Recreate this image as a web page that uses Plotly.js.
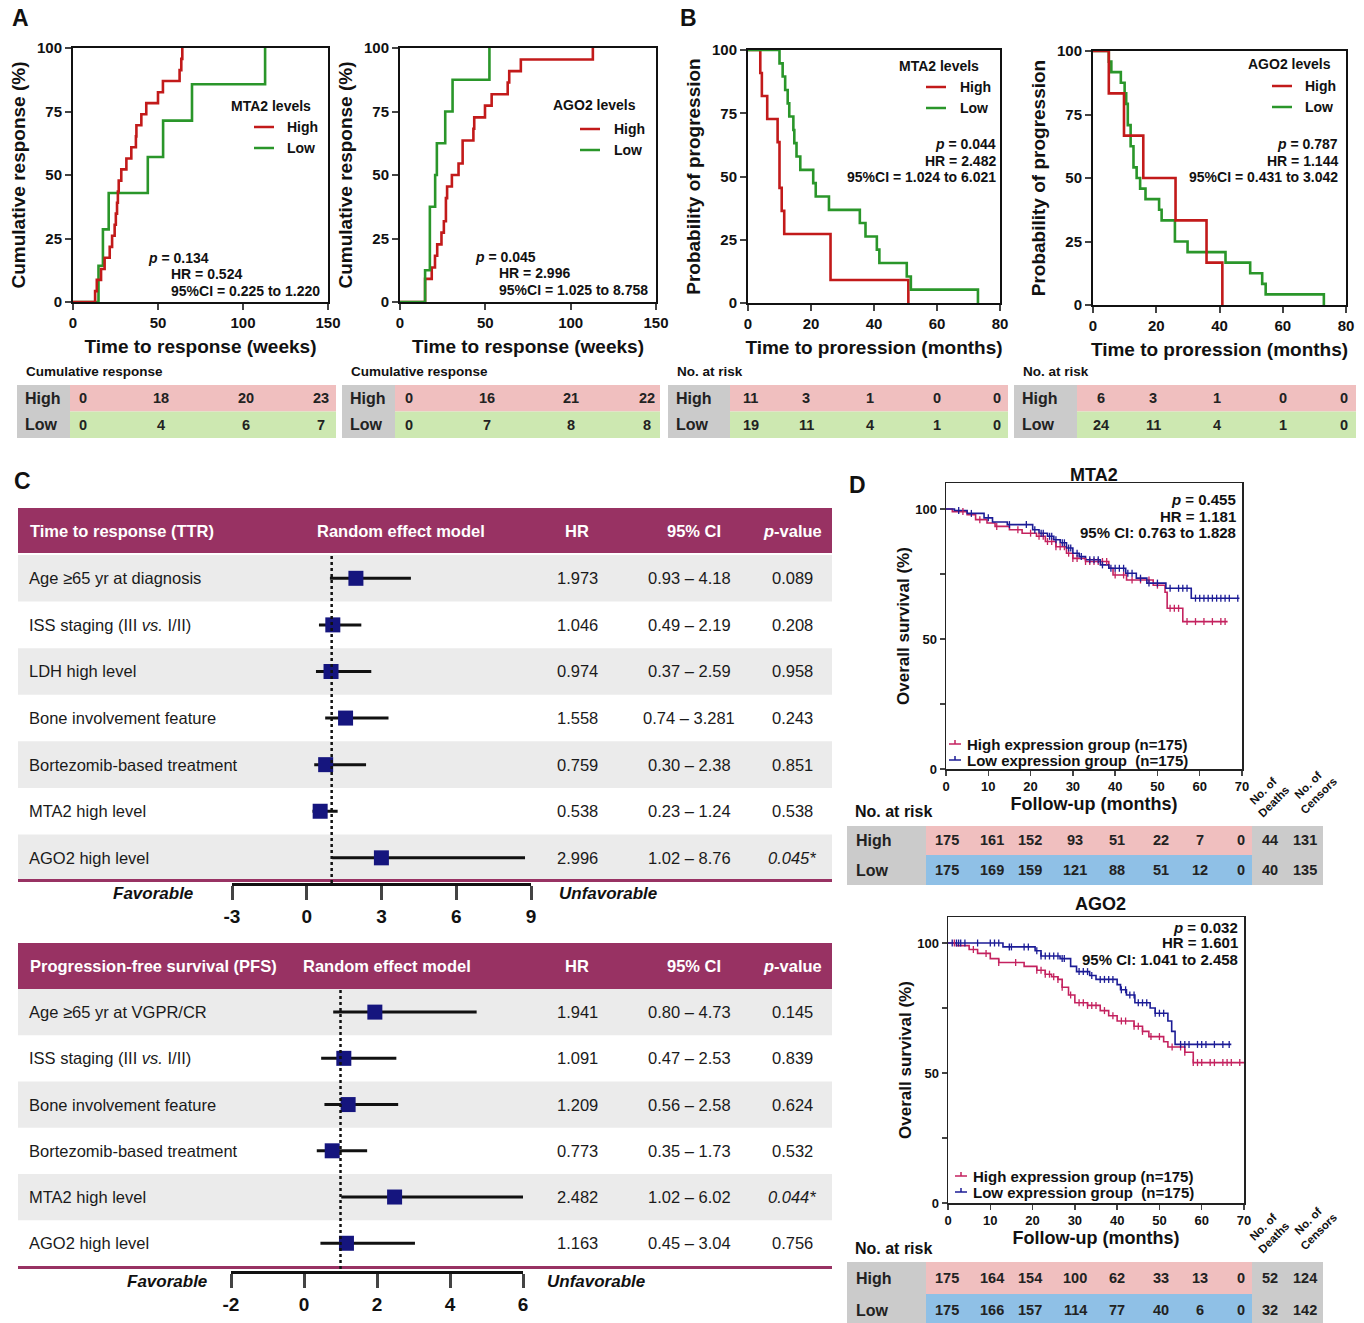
<!DOCTYPE html>
<html><head><meta charset="utf-8">
<script src="https://cdn.plot.ly/plotly-3.0.1.min.js"></script>
<style>body{margin:0;background:#fff}#chart{width:1364px;height:1323px}</style>
</head><body><div id="chart"></div>
<script>
const W = 1364, H = 1323;
const px = x => x / W, py = y => 1 - y / H;
const SANS = '"Liberation Sans", Arial, sans-serif';
const NARROW = '"Liberation Sans Narrow", "Arial Narrow", "Liberation Sans", sans-serif';

// ---------- Panel A: cumulative response (weeks) ----------
const aMtaHighT = [0, 13, 14, 16.5, 18.6, 21.6, 23, 24.5, 25.2, 25.9, 26.4, 26.9, 28.4, 31.4, 34.3, 37, 37.3, 40.2, 43.1, 50, 52.9, 62.7, 63.7, 64.3];
const aMtaHighY = [0, 4.3, 8.7, 13.0, 17.4, 21.7, 26.1, 30.4, 34.8, 39.1, 43.5, 47.8, 52.2, 56.5, 60.9, 65.2, 69.6, 73.9, 78.3, 82.6, 87.0, 91.3, 95.7, 100];
const aMtaLowT = [0, 15, 17.6, 21, 44, 53, 70, 113];
const aMtaLowY = [0, 14.3, 28.6, 42.9, 57.1, 71.4, 85.7, 100];
const aAgoHighT = [0, 14.7, 18.6, 20.5, 21.8, 24.3, 25.7, 26.9, 27.6, 30.4, 34.3, 36.7, 43, 43.5, 49.8, 53.7, 63.1, 64, 70.8, 113];
const aAgoHighY = [0, 9.1, 13.6, 18.2, 22.7, 27.3, 31.8, 40.9, 45.5, 50, 54.5, 63.6, 68.2, 72.7, 77.3, 81.8, 86.4, 90.9, 95.5, 100];
const aAgoLowT = [0, 14.7, 17.5, 20.6, 21.6, 26.5, 30.8, 52.4];
const aAgoLowY = [0, 12.5, 37.5, 50, 62.5, 75, 87.5, 100];

// ---------- Panel B: probability of progression (months) ----------
const bMtaHighT = [0, 3.9, 4.4, 6.1, 9.4, 10, 10.7, 11.5, 26.2, 50.9];
const bMtaHighY = [100, 90.9, 81.8, 72.7, 63.6, 45.5, 36.4, 27.3, 9.1, 0];
const bMtaLowT = [0, 10, 11, 11.8, 12.6, 13.1, 14.4, 14.7, 15.4, 16.6, 20.7, 21.5, 25.7, 35.5, 37.3, 40.9, 41.7, 50.4, 51.7, 73];
const bMtaLowY = [100, 94.7, 89.5, 84.2, 78.9, 73.7, 68.4, 63.2, 57.9, 52.6, 47.4, 42.1, 36.8, 31.6, 26.3, 21.1, 15.8, 10.5, 5.3, 0];
const bAgoHighT = [0, 5, 9.8, 15.9, 26.1, 35.9, 40.9];
const bAgoHighY = [100, 83.3, 66.7, 50, 33.3, 16.7, 0];
const bAgoLowT = [0, 5, 5.8, 8.8, 10, 10.5, 11, 11.9, 12.8, 13.8, 14.9, 16.6, 20.9, 21.7, 25.9, 29.9, 41.9, 49.7, 53.5, 54.6, 73];
const bAgoLowY = [100, 95.8, 91.7, 87.5, 83.3, 79.2, 70.8, 62.5, 54.2, 50, 45.8, 41.7, 37.5, 33.3, 25, 20.8, 16.7, 12.5, 8.3, 4.2, 0];

// ---------- Tables under A/B ----------
const tA1High = [0, 18, 20, 23], tA1Low = [0, 4, 6, 7];
const tA2High = [0, 16, 21, 22], tA2Low = [0, 7, 8, 8];
const tB1High = [11, 3, 1, 0, 0], tB1Low = [19, 11, 4, 1, 0];
const tB2High = [6, 3, 1, 0, 0], tB2Low = [24, 11, 4, 1, 0];

// ---------- Panel C: forest plots ----------
const ttrLabels = ['Age \u226565 yr at diagnosis', 'ISS staging (III <i>vs.</i> I/II)', 'LDH high level', 'Bone involvement feature', 'Bortezomib-based treatment', 'MTA2 high level', 'AGO2 high level'];
const ttrHR = [1.973, 1.046, 0.974, 1.558, 0.759, 0.538, 2.996];
const ttrLo = ['0.93', '0.49', '0.37', '0.74', '0.30', '0.23', '1.02'];
const ttrHi = ['4.18', '2.19', '2.59', '3.281', '2.38', '1.24', '8.76'];
const ttrP = ['0.089', '0.208', '0.958', '0.243', '0.851', '0.538', '0.045*'];
const ttrTicks = ['-3', '0', '3', '6', '9'];
const pfsLabels = ['Age \u226565 yr at VGPR/CR', 'ISS staging (III <i>vs.</i> I/II)', 'Bone involvement feature', 'Bortezomib-based treatment', 'MTA2 high level', 'AGO2 high level'];
const pfsHR = [1.941, 1.091, 1.209, 0.773, 2.482, 1.163];
const pfsLo = ['0.80', '0.47', '0.56', '0.35', '1.02', '0.45'];
const pfsHi = ['4.73', '2.53', '2.58', '1.73', '6.02', '3.04'];
const pfsP = ['0.145', '0.839', '0.624', '0.532', '0.044*', '0.756'];
const pfsTicks = ['-2', '0', '2', '4', '6'];

// ---------- Panel D: overall survival ----------
const dMtaLowT = [0, 2, 5, 9, 11, 14.5, 20.5, 22, 24, 25.5, 27, 28.5, 30, 31.5, 33, 36.5, 38.5, 42.5, 45, 47.5, 52, 58, 69.4];
const dMtaLowY = [100, 99.4, 98.3, 96.6, 95, 94, 92, 90.7, 89.5, 88.2, 87, 85, 83, 81.7, 80.5, 78.5, 77.2, 75.3, 73.4, 71.5, 69.5, 65.7, 65.7];
const dMtaHighT = [0, 1.5, 5, 7, 9.7, 11.6, 15, 18, 21.4, 23.5, 26, 28.5, 30, 33, 38.5, 39.5, 42.7, 49, 51.8, 52.3, 56, 66.6];
const dMtaHighY = [100, 99, 97.8, 95.9, 94.6, 93.3, 92, 90.7, 89.5, 87.5, 85.5, 83, 81, 79.8, 77.2, 74.6, 72.7, 70.7, 68, 61.8, 56.7, 56.7];
const dMtaLowCens = [3, 6, 10, 15, 19, 21, 22.5, 23, 24.5, 25, 26, 27.5, 28, 29, 29.5, 31, 32, 34, 35, 36, 37, 39, 40, 41, 42, 43, 44, 46, 48, 50, 53, 55, 56, 57, 59, 60, 61, 62, 63, 64, 65, 66, 67, 69];
const dMtaHighCens = [4, 8, 12, 17, 20, 22, 23, 24, 25, 26, 27, 28, 29, 30, 31, 33, 34, 35, 36, 37, 38, 40, 42, 44, 46, 48, 50, 53, 54, 55, 57, 59, 61, 63, 65, 66];
const dAgoLowT = [0, 13, 20.6, 22, 26.5, 29, 30.4, 33.5, 35, 40, 40.8, 42.2, 44.2, 47.8, 49, 52, 52.9, 53.7, 67];
const dAgoLowY = [100, 98.5, 97, 95, 94, 91, 89, 87.5, 86, 84, 82, 80, 77, 75, 73, 70, 66, 61, 61];
const dAgoHighT = [0, 2, 5, 7, 10, 12, 18, 21, 23, 24.5, 26, 27, 28.5, 30, 33, 36, 38, 40, 44, 46, 47.5, 51, 52, 56, 58, 70];
const dAgoHighY = [100, 99, 97.5, 96, 94, 92.5, 91, 89.5, 88, 87, 86, 83, 80, 77, 76, 74, 72, 70, 68, 66, 64, 62, 60, 58, 54, 54];
const dAgoLowCens = [1, 2, 2.5, 3, 4, 7, 10, 11, 12, 14.5, 15, 18, 19, 21, 22, 23, 24, 25, 26, 27, 27.5, 31, 32, 33, 34, 36, 37, 38, 39, 41, 42, 43, 44, 45, 46, 47, 49, 50, 51, 55, 56, 57, 59, 60, 61, 63, 65, 66.5];
const dAgoHighCens = [1.5, 6, 9, 12, 16, 21, 22, 23, 24, 25, 26, 27, 29, 31, 32, 33, 34, 35, 37, 39, 41, 42, 44, 45, 46, 48, 50, 53, 55, 56, 58, 59, 60, 62, 63, 65, 66, 67, 69];
const dMtaRiskHigh = [175, 161, 152, 93, 51, 22, 7, 0], dMtaRiskLow = [175, 169, 159, 121, 88, 51, 12, 0];
const dMtaDeaths = [44, 40], dMtaCensors = [131, 135];
const dAgoRiskHigh = [175, 164, 154, 100, 62, 33, 13, 0], dAgoRiskLow = [175, 166, 157, 114, 77, 40, 6, 0];
const dAgoDeaths = [52, 32], dAgoCensors = [124, 142];

// ---------- colours ----------
const RED = '#c21a1a', GREEN = '#2a962a', MAG = '#c4225f', NAVY = '#1c1c96', PURPLE = '#983263';
const PINK = '#f0bfbf', LGREEN = '#cde8b1', GRAY = '#cbcbcb', BLUE = '#8fc0e6', ROWGRAY = '#ebebeb';

const traces = [];
function km(t, y, color, xa, ya, w) {
  traces.push({x: t, y: y, xaxis: xa, yaxis: ya, mode: 'lines', line: {shape: 'hv', color: color, width: w || 2.6}, cliponaxis: false, showlegend: false, hoverinfo: 'skip'});
}
function stepAt(t, y, c) { let v = y[0]; for (let i = 0; i < t.length; i++) { if (t[i] <= c) v = y[i]; } return v; }
function cens(times, t, y, color, xa, ya) {
  traces.push({x: times, y: times.map(c => stepAt(t, y, c)), xaxis: xa, yaxis: ya, mode: 'markers',
    marker: {symbol: 'line-ns-open', size: 5, color: color, line: {color: color, width: 1.3}}, cliponaxis: false, showlegend: false, hoverinfo: 'skip'});
}
km(aMtaLowT, aMtaLowY, GREEN, 'x', 'y'); km(aMtaHighT, aMtaHighY, RED, 'x', 'y');
km(aAgoHighT, aAgoHighY, RED, 'x2', 'y2'); km(aAgoLowT, aAgoLowY, GREEN, 'x2', 'y2');
km(bMtaHighT, bMtaHighY, RED, 'x3', 'y3'); km(bMtaLowT, bMtaLowY, GREEN, 'x3', 'y3');
km(bAgoLowT, bAgoLowY, GREEN, 'x4', 'y4'); km(bAgoHighT, bAgoHighY, RED, 'x4', 'y4');
km(dMtaHighT, dMtaHighY, MAG, 'x7', 'y7', 1.6); km(dMtaLowT, dMtaLowY, NAVY, 'x7', 'y7', 1.6);
cens(dMtaHighCens, dMtaHighT, dMtaHighY, MAG, 'x7', 'y7'); cens(dMtaLowCens, dMtaLowT, dMtaLowY, NAVY, 'x7', 'y7');
km(dAgoHighT, dAgoHighY, MAG, 'x8', 'y8', 1.6); km(dAgoLowT, dAgoLowY, NAVY, 'x8', 'y8', 1.6);
cens(dAgoHighCens, dAgoHighT, dAgoHighY, MAG, 'x8', 'y8'); cens(dAgoLowCens, dAgoLowT, dAgoLowY, NAVY, 'x8', 'y8');

function forest(hr, lo, hi, xa, ya) {
  const l = lo.map(parseFloat), h = hi.map(parseFloat);
  traces.push({x: hr, y: hr.map((_, i) => i + 1), xaxis: xa, yaxis: ya, mode: 'markers', showlegend: false, hoverinfo: 'skip',
    marker: {symbol: 'square', size: 15, color: '#15157e'},
    error_x: {type: 'data', symmetric: false, array: hr.map((v, i) => h[i] - v), arrayminus: hr.map((v, i) => v - l[i]), thickness: 3, width: 0, color: '#111'}});
}
forest(ttrHR, ttrLo, ttrHi, 'x5', 'y5');
forest(pfsHR, pfsLo, pfsHi, 'x6', 'y6');

// ---------- axes ----------
const tickBold = (s, fam) => ({family: fam || SANS, size: s, color: '#111', weight: 'bold'});
function kmX(x0, x1, anchor, rng, dtick, title, standoff) {
  return {domain: [px(x0), px(x1)], anchor: anchor, range: rng, tick0: 0, dtick: dtick, ticks: 'outside', ticklen: 6, tickwidth: 2,
    showline: true, linewidth: 2, linecolor: '#111', mirror: true, showgrid: false, zeroline: false, tickfont: tickBold(15),
    title: {text: title, font: tickBold(19), standoff: standoff}};
}
function kmY(y0, y1, anchor, title, standoff) {
  return {domain: [py(y0), py(y1)], anchor: anchor, range: [0, 100], tick0: 0, dtick: 25, ticks: 'outside', ticklen: 6, tickwidth: 2,
    showline: true, linewidth: 2, linecolor: '#111', mirror: true, showgrid: false, zeroline: false, tickfont: tickBold(15),
    title: {text: title, font: tickBold(19), standoff: standoff}};
}
function forestX(x0, x1, anchor, rng, dtick, labels) {
  const vals = labels.map(parseFloat);
  return {domain: [px(x0), px(x1)], anchor: anchor, range: rng, tickvals: vals, ticktext: labels, ticks: 'outside', ticklen: 14, tickwidth: 3,
    showline: true, linewidth: 3, linecolor: '#111', showgrid: false, zeroline: false, tickfont: tickBold(19)};
}
function dX(x0, x1, anchor, standoff) {
  return {domain: [px(x0), px(x1)], anchor: anchor, range: [0, 70], tick0: 0, dtick: 10, ticks: 'outside', ticklen: 5, tickwidth: 1.5,
    showline: true, linewidth: 1.5, linecolor: '#222', mirror: true, showgrid: false, zeroline: false, tickfont: tickBold(13),
    title: {text: 'Follow-up (months)', font: tickBold(18), standoff: standoff}};
}
function dY(y0, y1, anchor) {
  return {domain: [py(y0), py(y1)], anchor: anchor, range: [0, 110], tickvals: [0, 25, 50, 75, 100], ticktext: ['0', '', '50', '', '100'],
    ticks: 'outside', ticklen: 5, tickwidth: 1.5, showline: true, linewidth: 1.5, linecolor: '#222', mirror: true, showgrid: false, zeroline: false,
    tickfont: tickBold(13), title: {text: 'Overall survival (%)', font: tickBold(17), standoff: 1}};
}

const layout = {
  width: W, height: H, margin: {l: 0, r: 0, t: 0, b: 0}, paper_bgcolor: '#fff', plot_bgcolor: 'rgba(0,0,0,0)',
  font: {family: SANS, color: '#111'}, showlegend: false,
  xaxis: kmX(73, 328, 'y', [0, 150], 50, 'Time to response (weeks)', 10),
  yaxis: kmY(302, 48, 'x', 'Cumulative response (%)', 6),
  xaxis2: kmX(400, 656, 'y2', [0, 150], 50, 'Time to response (weeks)', 10),
  yaxis2: kmY(302, 48, 'x2', 'Cumulative response (%)', 6),
  xaxis3: kmX(748, 1000, 'y3', [0, 80], 20, 'Time to proression (months)', 10),
  yaxis3: kmY(303, 50, 'x3', 'Probability of progression', 6),
  xaxis4: kmX(1093, 1346, 'y4', [0, 80], 20, 'Time to proression (months)', 10),
  yaxis4: kmY(305, 51, 'x4', 'Probability of progression', 6),
  xaxis5: forestX(232, 531, 'y5', [-3, 9], 3, ttrTicks),
  yaxis5: {domain: [py(883), py(555)], anchor: 'x5', range: [7.54, 0.5], visible: false},
  xaxis6: forestX(231, 523, 'y6', [-2, 6], 2, pfsTicks),
  yaxis6: {domain: [py(1271), py(989)], anchor: 'x6', range: [6.60, 0.5], visible: false},
  xaxis7: dX(946, 1242, 'y7', 2),
  yaxis7: dY(769, 483, 'x7'),
  xaxis8: dX(948, 1244, 'y8', 2),
  yaxis8: dY(1203, 917, 'x8'),
  shapes: [], annotations: []
};
const S = layout.shapes, A = layout.annotations;
function rect(x0, y0, x1, y1, color) { S.push({type: 'rect', xref: 'paper', yref: 'paper', x0: px(x0), x1: px(x1), y0: py(y0), y1: py(y1), fillcolor: color, line: {width: 0}, layer: 'below'}); }
function hline(x0, x1, y, color, w, dash) { S.push({type: 'line', xref: 'paper', yref: 'paper', x0: px(x0), x1: px(x1), y0: py(y), y1: py(y), line: {color: color, width: w, dash: dash || 'solid'}}); }
function vline(x, y0, y1, color, w) { S.push({type: 'line', xref: 'paper', yref: 'paper', x0: px(x), x1: px(x), y0: py(y0), y1: py(y1), line: {color: color, width: w}}); }
function txt(text, x, y, size, opts) {
  opts = opts || {};
  A.push(Object.assign({text: text, xref: 'paper', yref: 'paper', x: px(x), y: py(y), showarrow: false, xanchor: opts.anchor || 'center', yanchor: 'middle',
    font: {family: opts.family || SANS, size: size, color: opts.color || '#111', weight: opts.weight || 'bold', style: opts.style || 'normal'}}, opts.extra || {}));
}

// panel letters
txt('A', 20, 18, 23, {}); txt('B', 688, 18, 23, {}); txt('C', 22, 481, 23, {}); txt('D', 857, 485, 23, {});

// legends A/B
function kmLegend(title, tx, ty, lx0, lx1, textX, yH, yL) {
  txt(title, tx, ty, 14);
  hline(lx0, lx1, yH, RED, 2.5); hline(lx0, lx1, yL, GREEN, 2.5);
  txt('High', textX, yH, 14, {anchor: 'left'}); txt('Low', textX, yL, 14, {anchor: 'left'});
}
kmLegend('MTA2 levels', 271, 106, 254, 274, 285, 127, 148);
kmLegend('AGO2 levels', 594, 105, 580, 600, 612, 129, 150);
kmLegend('MTA2 levels', 939, 66, 926, 946, 958, 87, 108);
kmLegend('AGO2 levels', 1289, 64, 1272, 1292, 1303, 86, 107);

// stats text A/B
function stats(lines, x, ys, anchor) { lines.forEach((l, i) => txt(l, x[i], ys[i], 14, {anchor: anchor})); }
stats(['<i>p</i> = 0.134', 'HR = 0.524', '95%CI = 0.225 to 1.220'], [146, 169, 169], [258, 274, 291], 'left');
stats(['<i>p</i> = 0.045', 'HR = 2.996', '95%CI = 1.025 to 8.758'], [473, 497, 497], [257, 273, 290], 'left');
stats(['<i>p</i> = 0.044', 'HR = 2.482', '95%CI = 1.024 to 6.021'], [998, 998, 998], [144, 161, 177], 'right');
stats(['<i>p</i> = 0.787', 'HR = 1.144', '95%CI = 0.431 to 3.042'], [1340, 1340, 1340], [144, 161, 177], 'right');

// tables A/B
function smallTable(caption, x0, labEnd, x1, highVals, lowVals, cols, lowColor) {
  txt(caption, x0 + 7, 371, 13.5, {anchor: 'left'});
  rect(x0, 385, labEnd, 438, GRAY); rect(labEnd, 385, x1, 411.5, PINK); rect(labEnd, 411.5, x1, 438, lowColor);
  txt('High', x0 + 6, 398, 16, {anchor: 'left', color: '#222'}); txt('Low', x0 + 6, 425, 16, {anchor: 'left', color: '#222'});
  highVals.forEach((v, i) => txt(String(v), cols[i], 398, 14.5, {color: '#222'}));
  lowVals.forEach((v, i) => txt(String(v), cols[i], 425, 14.5, {color: '#222'}));
}
smallTable('Cumulative response', 17, 70, 336, tA1High, tA1Low, [83, 161, 246, 321], LGREEN);
smallTable('Cumulative response', 342, 395, 660, tA2High, tA2Low, [409, 487, 571, 647], LGREEN);
smallTable('No. at risk', 668, 730, 1008, tB1High, tB1Low, [751, 806, 870, 937, 997], LGREEN);
smallTable('No. at risk', 1014, 1077, 1356, tB2High, tB2Low, [1101, 1153, 1217, 1283, 1344], LGREEN);

// forest blocks
function forestBlock(title, modelX, hdrTop, hdrBot, labels, hr, lo, hi, p, ya, lineY, favX, unfavX, textY) {
  rect(18, hdrTop, 832, hdrBot, PURPLE);
  const hy = (hdrTop + hdrBot) / 2;
  const hf = {color: '#fff'};
  txt(title, 28, hy, 16.5, Object.assign({anchor: 'left'}, hf));
  txt('Random effect model', modelX, hy, 16.5, hf);
  txt('HR', 577, hy, 16.5, hf); txt('95% CI', 694, hy, 16.5, hf); txt('<i>p</i>-value', 792, hy, 16.5, hf);
  labels.forEach((lab, i) => {
    if (i % 2 === 0) S.push({type: 'rect', xref: 'paper', yref: ya, x0: px(18), x1: px(832), y0: i + 0.5, y1: i + 1.5, fillcolor: ROWGRAY, line: {width: 0}, layer: 'below'});
    const row = {xref: 'paper', yref: ya, y: i + 1, showarrow: false, yanchor: 'middle', font: {family: SANS, size: 16.5, color: '#1a1a1a', weight: 'normal'}};
    A.push(Object.assign({}, row, {text: lab, x: px(27), xanchor: 'left'}));
    A.push(Object.assign({}, row, {text: hr[i].toFixed(3), x: px(577), xanchor: 'center'}));
    A.push(Object.assign({}, row, {text: lo[i] + ' \u2013 ' + hi[i], x: px(689), xanchor: 'center'}));
    const sig = p[i].indexOf('*') >= 0;
    A.push(Object.assign({}, row, {text: sig ? '<i>' + p[i] + '</i>' : p[i], x: px(792), xanchor: 'center'}));
  });
  hline(18, 832, lineY, PURPLE, 3);
  txt('<i>Favorable</i>', favX, textY, 17);
  txt('<i>Unfavorable</i>', unfavX, textY, 17);
}
forestBlock('Time to response (TTR)', 401, 508, 553, ttrLabels, ttrHR, ttrLo, ttrHi, ttrP, 'y5', 880.5, 153, 608, 893);
forestBlock('Progression-free survival (PFS)', 387, 943, 989, pfsLabels, pfsHR, pfsLo, pfsHi, pfsP, 'y6', 1267.5, 167, 596, 1281);
S.push({type: 'line', xref: 'x5', yref: 'paper', x0: 1, x1: 1, y0: py(556), y1: py(883), line: {color: '#111', width: 2.5, dash: 'dot'}});
S.push({type: 'line', xref: 'x6', yref: 'paper', x0: 1, x1: 1, y0: py(990), y1: py(1271), line: {color: '#111', width: 2.5, dash: 'dot'}});

// panel D
function dPanel(title, titleX, titleY, statsX, statsY, stLines, legX, legY, riskY, tTop, tMid, tBot, rHigh, rLow, deaths, censors) {
  txt(title, titleX, titleY, 18);
  stLines.forEach((l, i) => txt(l, statsX, statsY[i], 15, {anchor: 'right'}));
  [[MAG, 'High expression group (n=175)'], [NAVY, 'Low expression group \u00a0(n=175)']].forEach((e, i) => {
    const y = legY[i];
    hline(legX, legX + 12, y, e[0], 1.5); vline(legX + 6, y - 4, y, e[0], 1.5);
    txt(e[1], legX + 16, y, 15, {anchor: 'left'});
  });
  txt('No. at risk', 853, riskY, 16, {anchor: 'left'});
  rect(847, tTop, 926, tBot, GRAY); rect(926, tTop, 1252, tMid, PINK); rect(926, tMid, 1252, tBot, BLUE); rect(1252, tTop, 1323, tBot, GRAY);
  const yH = (tTop + tMid) / 2, yL = (tMid + tBot) / 2;
  txt('High', 854, yH, 16, {anchor: 'left', color: '#222'}); txt('Low', 854, yL, 16, {anchor: 'left', color: '#222'});
  const cols = [947, 992, 1030, 1075, 1117, 1161, 1200, 1241];
  rHigh.forEach((v, i) => txt(String(v), cols[i], yH, 14.5, {color: '#222'}));
  rLow.forEach((v, i) => txt(String(v), cols[i], yL, 14.5, {color: '#222'}));
  txt(String(deaths[0]), 1270, yH, 14.5, {color: '#222'}); txt(String(deaths[1]), 1270, yL, 14.5, {color: '#222'});
  txt(String(censors[0]), 1305, yH, 14.5, {color: '#222'}); txt(String(censors[1]), 1305, yL, 14.5, {color: '#222'});
  txt('No. of<br>Deaths', 1268, tTop - 30, 11.5, {extra: {textangle: -45}});
  txt('No. of<br>Censors', 1313, tTop - 36, 11.5, {extra: {textangle: -45}});
}
dPanel('MTA2', 1094, 475, 1238, [499, 516, 533], ['<i>p</i> = 0.455', 'HR = 1.181', '95% CI: 0.763 to 1.828'], 949, [744, 760], 811, 826, 855, 885,
  dMtaRiskHigh, dMtaRiskLow, dMtaDeaths, dMtaCensors);
dPanel('AGO2', 1100, 904, 1240, [927, 943, 959], ['<i>p</i> = 0.032', 'HR = 1.601', '95% CI: 1.041 to 2.458'], 955, [1176, 1192], 1248, 1262, 1294, 1326,
  dAgoRiskHigh, dAgoRiskLow, dAgoDeaths, dAgoCensors);

Plotly.newPlot('chart', traces, layout, {staticPlot: true, displayModeBar: false});
</script></body></html>
